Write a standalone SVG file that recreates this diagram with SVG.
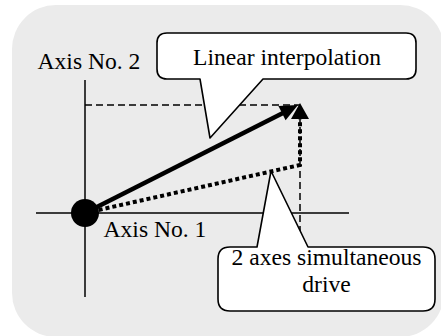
<svg xmlns="http://www.w3.org/2000/svg" width="441" height="336" viewBox="0 0 441 336">
<style>
.txt{font-family:"Liberation Serif","Times New Roman",serif;font-size:23.6px;fill:#000}
.axis{stroke:#000;stroke-width:1.5;fill:none}
.dash{stroke:#000;stroke-width:1.5;fill:none;stroke-dasharray:7 4}
.callout{fill:#fff;stroke:#000;stroke-width:1.6;stroke-linejoin:round}
</style>
<rect x="12" y="5" width="432" height="332" rx="44" fill="#ebebeb"/>
<g id="axes">
<line class="axis" x1="85" y1="80" x2="85" y2="297"/>
<line class="axis" x1="36" y1="213" x2="349" y2="213"/>
</g>
<g id="connectors">
<line class="dash" x1="85" y1="105" x2="300" y2="105"/>
<line class="dash" x1="300" y1="105" x2="300" y2="240"/>
<polyline points="85,213 300,165 300,119" fill="none" stroke="#000" stroke-width="4" stroke-dasharray="4 3"/>
<polygon points="300,103 309,119 291,119" fill="#000"/>
<line x1="85" y1="213" x2="283" y2="113" stroke="#000" stroke-width="4.5"/>
<polygon points="298,105 285.6,120.3 278.4,106.1" fill="#000"/>
</g>
<g id="origin">
<circle cx="85" cy="213" r="14" fill="#000"/>
</g>
<g id="label-axis2">
<text class="txt" x="37.5" y="69">Axis No. 2</text>
</g>
<g id="label-axis1">
<text class="txt" x="103.5" y="237">Axis No. 1</text>
</g>
<g id="callout-linear">
<path class="callout" d="M167,33 H406 Q416,33 416,43 V69 Q416,79 406,79 H263 L210,138 L200,79 H167 Q157,79 157,69 V43 Q157,33 167,33 Z"/>
<text class="txt" x="287" y="65" text-anchor="middle">Linear interpolation</text>
</g>
<g id="callout-simultaneous">
<path class="callout" d="M230,247 H257 L271,171 L308,247 H423 Q435,247 435,259 V299 Q435,311 423,311 H230 Q218,311 218,299 V259 Q218,247 230,247 Z"/>
<text class="txt" x="326.5" y="265" text-anchor="middle">2 axes simultaneous</text>
<text class="txt" x="326.5" y="292" text-anchor="middle">drive</text>
</g>
</svg>
